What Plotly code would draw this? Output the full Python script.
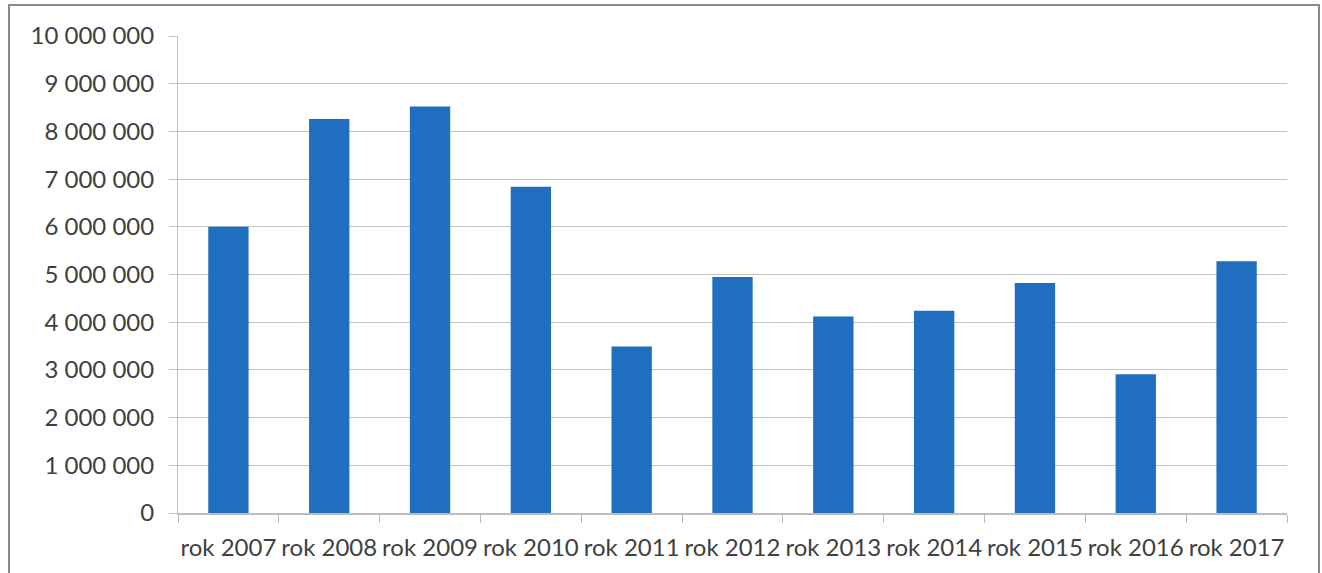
import plotly.graph_objects as go

categories = ["rok 2007", "rok 2008", "rok 2009", "rok 2010", "rok 2011", "rok 2012",
              "rok 2013", "rok 2014", "rok 2015", "rok 2016", "rok 2017"]
values = [6000000, 8260000, 8520000, 6840000, 3490000, 4950000,
          4120000, 4240000, 4820000, 2910000, 5280000]

W, H = 1322, 573
L, R, T, B = 178, 35, 36, 60
pw, ph = W - L - R, H - T - B

fig = go.Figure(go.Bar(x=categories, y=values, marker_color="#1F6EBF",
                       marker_line_width=0))

font = dict(family="Lato", size=24, color="#404040")

fig.update_layout(
    width=W, height=H,
    margin=dict(l=L, r=R, t=T, b=B),
    plot_bgcolor="white", paper_bgcolor="white",
    bargap=0.6, showlegend=False,
    separators=", ",
    font=font,
)
fig.update_yaxes(
    range=[0, 10000000], dtick=1000000, tickformat=",d",
    showgrid=True, gridcolor="#c4c4c4", gridwidth=1,
    showline=True, linecolor="#c4c4c4", linewidth=1,
    ticks="outside", ticklen=8, tickcolor="#c4c4c4",
    ticklabelstandoff=10, zeroline=False, tickfont=font,
)
fig.update_xaxes(
    type="category", tickangle=0,
    showline=True, linecolor="#bdbdbd", linewidth=1.5,
    ticks="outside", ticklen=8, tickcolor="#bdbdbd", tickson="boundaries",
    ticklabelstandoff=12, tickfont=font,
)
# outer chart frame
fig.add_shape(type="rect", xref="paper", yref="paper",
              x0=(9 - L) / pw, x1=(1319 - L) / pw,
              y0=(H - B - 600) / ph, y1=(H - B - 5) / ph,
              line=dict(color="#8a8a8a", width=2), fillcolor="rgba(0,0,0,0)", layer="below")

fig.write_html("out.html", config={"displayModeBar": False},
               post_script="document.body.style.margin='0';document.body.style.overflow='hidden';")
